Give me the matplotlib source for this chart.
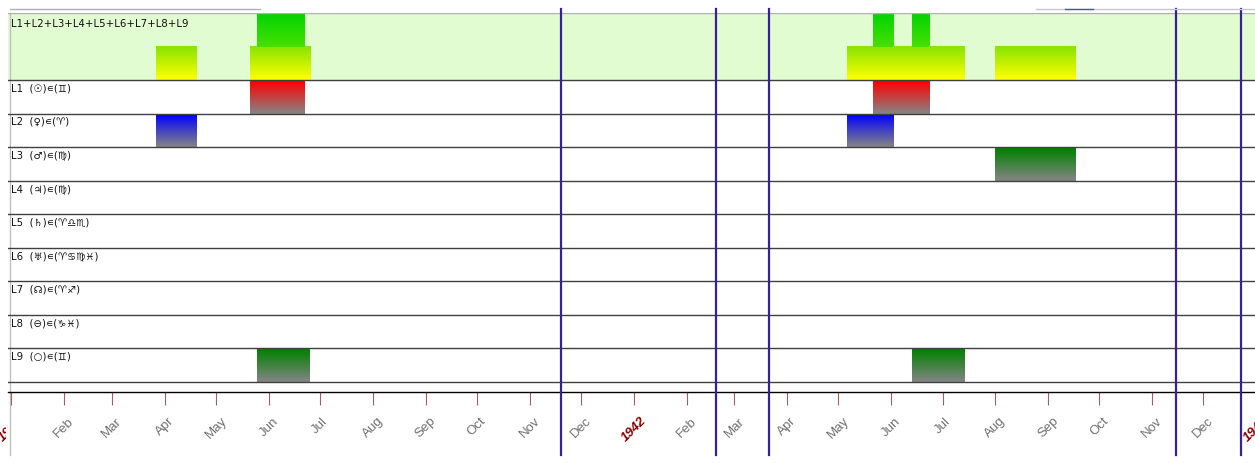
import datetime as dt
import numpy as np
import matplotlib
matplotlib.use("Agg")
import matplotlib.pyplot as plt
import matplotlib.dates as mdates
from matplotlib.colors import LinearSegmentedColormap
from matplotlib.lines import Line2D
from matplotlib.ticker import FuncFormatter
from matplotlib.transforms import Bbox, TransformedBbox

#%% data
sum_label = "L1+L2+L3+L4+L5+L6+L7+L8+L9"
row_labels = ["L1  (☉)∊(♊)", "L2  (♀)∊(♈)", "L3  (♂)∊(♍)", "L4  (♃)∊(♍)",
              "L5  (♄)∊(♈♎♏)", "L6  (♅)∊(♈♋♍♓)", "L7  (☊)∊(♈♐)",
              "L8  (⊖)∊(♑♓)", "L9  (○)∊(♊)"]
row_colors = ["#ff0000", "#0000ff", "#008000", "#008000", "#008000",
              "#008000", "#008000", "#008000", "#008000"]
# active periods of each row (start, end)
L1_periods = [("1941-05-21", "1941-06-22"), ("1942-05-21", "1942-06-23")]
L2_periods = [("1941-03-27", "1941-04-20"), ("1942-05-06", "1942-06-02")]
L3_periods = [("1942-08-01", "1942-09-17")]
L4_periods = []
L5_periods = []
L6_periods = []
L7_periods = []
L8_periods = []
L9_periods = [("1941-05-25", "1941-06-25"), ("1942-06-13", "1942-07-14")]
periods = [L1_periods, L2_periods, L3_periods, L4_periods, L5_periods,
           L6_periods, L7_periods, L8_periods, L9_periods]
marker_dates = ["1941-11-19", "1942-02-18", "1942-03-21", "1942-11-15", "1942-12-23"]
x_start, x_end = "1940-12-30", "1943-01-02"


def d(s):
    return mdates.date2num(dt.datetime.strptime(s, "%Y-%m-%d"))


def month_fmt(x, pos=None):
    dd = mdates.num2date(x)
    return str(dd.year) if dd.month == 1 else dd.strftime("%b")


#%% figure
W, H = 1255, 464
fig = plt.figure(figsize=(W / 100, H / 100), dpi=100)
ax = fig.add_axes([8 / W, 71 / H, 1250 / W, 379 / H])
gap = 0.3
nrow = len(row_labels)
ytop = gap + nrow + 2

# top summary band background
ax.axhspan(gap + nrow, ytop, color="#e2fcd2", zorder=0)

grad = np.linspace(0, 1, 64).reshape(-1, 1)


def grad_bar(x0, x1, y0, y1, cmap):
    ax.imshow(grad, extent=(x0, x1, y0, y1), origin="lower", cmap=cmap,
              aspect="auto", interpolation="bilinear", zorder=2)


# row bars
for i, (per, col) in enumerate(zip(periods, row_colors)):
    yb = gap + nrow - 1 - i
    cmap = LinearSegmentedColormap.from_list("r%d" % i, ["#858585", col])
    for s, e in per:
        grad_bar(d(s), d(e), yb, yb + 0.97, cmap)
    ax.text(d(x_start) + 2, yb + 0.93, row_labels[i], fontsize=7.3, va="top",
            ha="left", color="#101010", zorder=5)

# summary band: count of active rows
lvl_cmaps = [LinearSegmentedColormap.from_list("l1", ["#ffff00", "#88e400"]),
             LinearSegmentedColormap.from_list("l2", ["#48e000", "#00d400"])]
ivals = [(d(s), d(e)) for per in periods for s, e in per]
edges = sorted(set([v for iv in ivals for v in iv]))
for a, b in zip(edges[:-1], edges[1:]):
    n = sum(1 for s, e in ivals if s <= a and e >= b)
    for k in range(n):
        grad_bar(a, b, gap + nrow + k, gap + nrow + k + 1, lvl_cmaps[min(k, 1)])
ax.text(d(x_start) + 2, ytop - 0.15, sum_label, fontsize=7.3, va="top",
        ha="left", color="#101010", zorder=5)

# row separators
for k in range(nrow + 1):
    ax.axhline(gap + k, color="#404040", lw=1, zorder=3)
ax.axhline(ytop, color="#b0b0b0", lw=1, zorder=3)
ax.axhline(0, color="black", lw=1, zorder=3, clip_on=False)

# marker lines
for m in marker_dates:
    ax.axvline(d(m), ymin=-0.165, ymax=1.01, color="#3a1f9a", lw=1.6,
               zorder=6, clip_on=False)
ax.axvline(d(x_start) + 1.2, ymin=-0.165, ymax=1.0, color="#c0c0c0",
           lw=1, zorder=1, clip_on=False)

# axis
ax.set_xlim(d(x_start), d(x_end))
ax.set_ylim(0, ytop)
ax.set_yticks([])
for sp in ax.spines.values():
    sp.set_visible(False)
ax.xaxis.set_major_locator(mdates.MonthLocator())
ax.xaxis.set_major_formatter(FuncFormatter(month_fmt))
ax.tick_params(axis="x", length=9, width=0.8, color="#a06060", pad=7,
               labelsize=9.5, labelcolor="#707070", rotation=45)
fig.canvas.draw()
left_clip = TransformedBbox(Bbox([[0, 0], [6 / W, 1]]), fig.transFigure)
ticks = ax.get_xticks()
for lab, t in zip(ax.get_xticklabels(), ticks):
    lab.set_fontfamily("Liberation Sans")
    if mdates.num2date(t).month == 1:
        lab.set_color("#8b0000")
        lab.set_fontweight("bold")
        lab.set_fontstyle("italic")
    if t == ticks[0]:
        # first year label is scrolled off the left edge
        lab.set_clip_box(left_clip)
        lab.set_clip_on(True)

# header decoration
fig.add_artist(Line2D([10 / W, 260 / W], [1 - 10 / H, 1 - 10 / H], color="#b0b0b0", lw=1))
fig.add_artist(Line2D([1036 / W, 1255 / W], [1 - 10 / H, 1 - 10 / H], color="#c8c8c8", lw=1))
fig.add_artist(Line2D([1065 / W, 1093 / W], [1 - 10 / H, 1 - 10 / H], color="#406080", lw=1))

fig.savefig("out.png", dpi=100)
